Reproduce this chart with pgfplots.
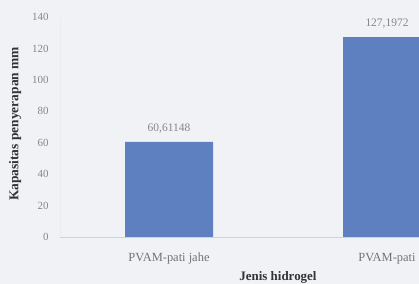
\documentclass[border=0pt]{standalone}
\usepackage{pgfplots}
\pgfplotsset{compat=1.18}
\usepackage{fontspec}
\setmainfont{Liberation Serif}
\definecolor{barblue}{RGB}{94,128,192}
\definecolor{bg}{RGB}{241,242,246}
\definecolor{tickgray}{RGB}{135,135,135}
\begin{document}
\begin{tikzpicture}[x=1bp,y=1bp]
\path[use as bounding box, fill=bg] (0,0) rectangle (419,284);
\clip (0,0) rectangle (419,284);
\begin{axis}[
  at={(60bp,47bp)}, anchor=south west,
  scale only axis, width=436bp, height=220bp,
  xmin=-0.5, xmax=1.5, ymin=0, ymax=140,
  ytick={0,20,...,140},
  xtick={0,1}, xticklabels={PVAM-pati jahe, PVAM-pati},
  ybar, bar width=88bp,
  axis line style={draw=none},
  axis x line*=bottom, axis y line*=left,
  x axis line style={draw=gray!35},
  y axis line style={draw=gray!15},
  tick style={draw=none},
  yticklabel style={font=\fontsize{11}{12}\selectfont, text=tickgray, anchor=east, xshift=-8bp},
  xticklabel style={font=\fontsize{12.5}{13}\selectfont, text=gray!90!black, yshift=-8bp},
  /pgf/number format/assume math mode=true,
  ylabel={\textbf{Kapasitas penyerapan mm}},
  ylabel style={font=\fontsize{13.5}{14}\selectfont, text=black!80, at={(axis description cs:-0.103,0.514)}, anchor=center},
  xlabel={\textbf{Jenis hidrogel}},
  xlabel style={font=\fontsize{13}{14}\selectfont, text=black!80, at={(axis description cs:0.5,0)}, anchor=base, yshift=-43bp},
  nodes near coords,
  point meta=explicit symbolic,
  nodes near coords style={font=\fontsize{11.5}{12}\selectfont, text=tickgray, yshift=5bp},
]
\addplot[fill=barblue, draw=none] coordinates {(0,60.61148)[60,61148] (1,127.1972)[127,1972]};
\end{axis}
\end{tikzpicture}
\end{document}
